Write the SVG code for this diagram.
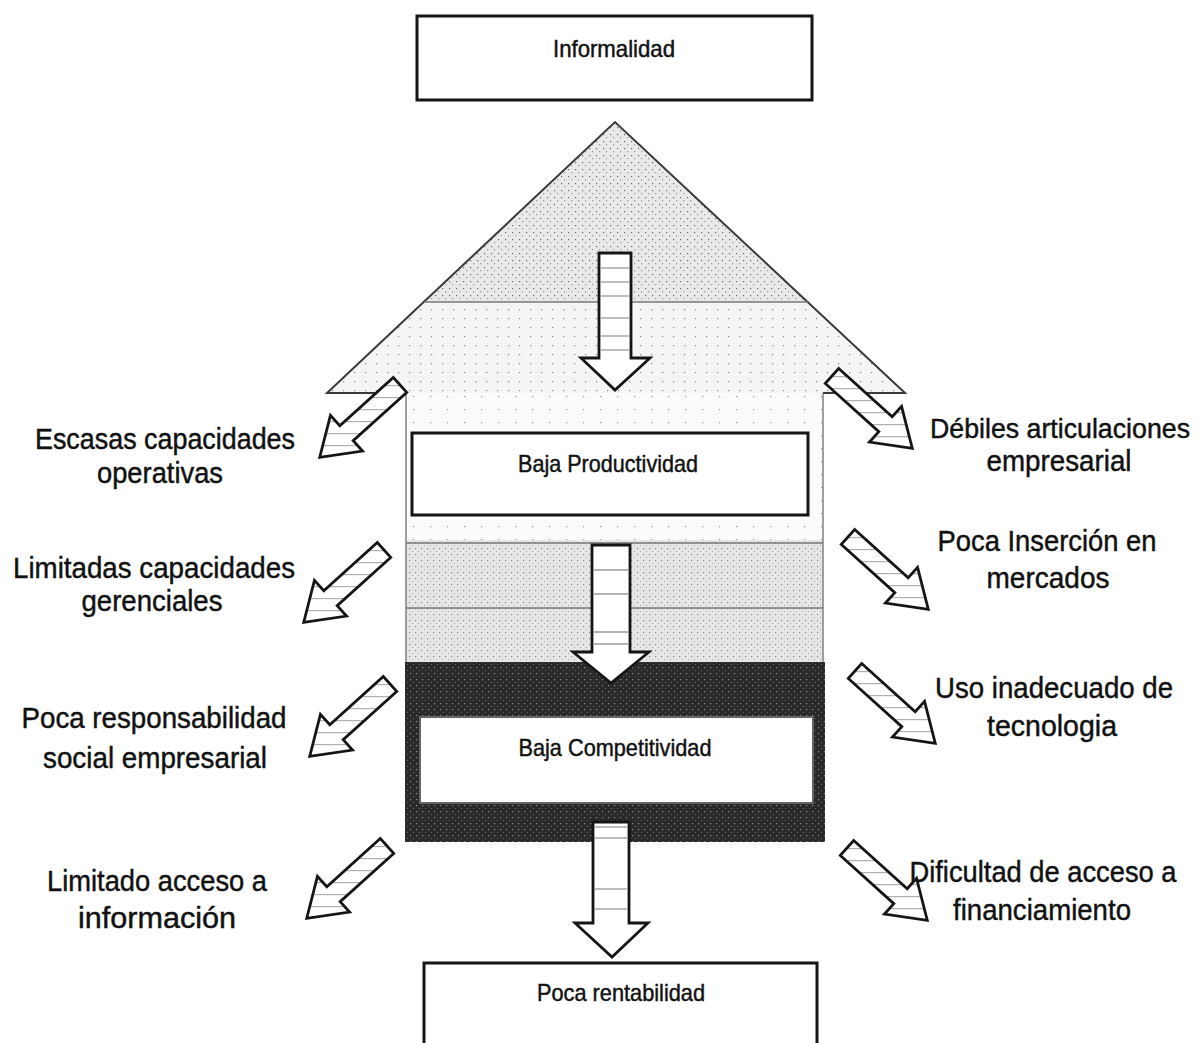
<svg xmlns="http://www.w3.org/2000/svg" xmlns:xlink="http://www.w3.org/1999/xlink" width="1202" height="1043" viewBox="0 0 1202 1043">
<style>
.box{fill:#fff;stroke:#151515;stroke-width:3}
.arr{stroke:#151515;stroke-width:2.8;stroke-linejoin:miter}
.stripe{stroke:#9a9a9a;stroke-width:1.3}
.t{font-family:"Liberation Sans",Arial,sans-serif;fill:#111;stroke:#111;stroke-width:0.45;text-anchor:middle}
.lbl{font-size:30px}
.bt{font-size:24px}
.edge{fill:none;stroke:#3a3a3a;stroke-width:2}
.thin{stroke:#777;stroke-width:1.4}
</style>
<defs>
<pattern id="pRoofTop" width="7" height="7" patternUnits="userSpaceOnUse">
<rect width="7" height="7" fill="#e9e9e9"/>
<rect x="1" y="1" width="1.2" height="1.2" fill="#6a6a6a"/>
<rect x="4" y="4" width="1.2" height="1.2" fill="#9a9a9a"/>
</pattern>
<pattern id="pRoofLow" width="11" height="9" patternUnits="userSpaceOnUse">
<rect width="11" height="9" fill="#f5f5f5"/>
<rect x="2" y="3" width="1.2" height="1.2" fill="#888"/>
</pattern>
<pattern id="pBody" width="17" height="13" patternUnits="userSpaceOnUse">
<rect width="17" height="13" fill="#fbfbfb"/>
<rect x="5" y="6" width="1.2" height="1.2" fill="#999"/>
</pattern>
<pattern id="pBand" width="6" height="6" patternUnits="userSpaceOnUse">
<rect width="6" height="6" fill="#e6e6e6"/>
<rect x="1" y="2" width="1.2" height="1.2" fill="#888"/>
<rect x="4" y="5" width="1" height="1" fill="#aaa"/>
</pattern>
<pattern id="pDark" width="6" height="6" patternUnits="userSpaceOnUse">
<rect width="6" height="6" fill="#2a2a2a"/>
<rect x="2" y="1" width="1.2" height="1.2" fill="#8a8a8a"/>
<rect x="5" y="4" width="1" height="1" fill="#666"/>
</pattern>
<pattern id="stL" width="12" height="12" patternUnits="userSpaceOnUse" patternTransform="rotate(-138)">
<rect width="12" height="12" fill="#fff"/>
<rect y="0" width="12" height="1.2" fill="#b0b0b0"/>
</pattern>
<pattern id="stR" width="12" height="12" patternUnits="userSpaceOnUse" patternTransform="rotate(-42)">
<rect width="12" height="12" fill="#fff"/>
<rect y="0" width="12" height="1.2" fill="#b0b0b0"/>
</pattern>
<path id="da" d="M0,-10 L72,-10 L72,-24 L108,0 L72,24 L72,10 L0,10 Z"/>
</defs>

<g id="house">
<polygon points="615,122 808,302 424,302" fill="url(#pRoofTop)"/>
<polygon points="424,302 808,302 905,393 327,393" fill="url(#pRoofLow)"/>
<rect x="406" y="393" width="417" height="147" fill="url(#pBody)"/>
<rect x="406" y="540" width="417" height="122" fill="url(#pBand)"/>
<rect x="405" y="662" width="420" height="180" fill="url(#pDark)"/>
<path class="edge" d="M406,393 L327,393 L615,122 L905,393 L823,393"/>
<line class="thin" x1="424" y1="302" x2="808" y2="302" stroke="#444"/>
<line class="thin" x1="406" y1="393" x2="406" y2="662"/>
<line class="thin" x1="823" y1="393" x2="823" y2="662"/>
<line class="thin" x1="406" y1="543" x2="823" y2="543"/>
<line class="thin" x1="406" y1="608" x2="823" y2="608"/>
</g>

<g id="n-informalidad">
<rect class="box" x="417" y="16" width="395" height="84"/>
<text class="t bt" x="614" y="57" textLength="122" lengthAdjust="spacingAndGlyphs">Informalidad</text>
</g>
<g id="n-productividad">
<rect class="box" x="412" y="433" width="396" height="82"/>
<text class="t bt" x="608" y="472" textLength="180" lengthAdjust="spacingAndGlyphs">Baja Productividad</text>
</g>
<g id="n-competitividad">
<rect x="420" y="717" width="393" height="86" fill="#fff" stroke="#666" stroke-width="2"/>
<text class="t bt" x="615" y="756" textLength="193" lengthAdjust="spacingAndGlyphs">Baja Competitividad</text>
</g>
<g id="n-rentabilidad">
<rect class="box" x="424" y="963" width="393" height="100"/>
<text class="t bt" x="621" y="1001" textLength="168" lengthAdjust="spacingAndGlyphs">Poca rentabilidad</text>
</g>

<g id="n-escasas"><text class="t lbl" x="165" y="449" textLength="260" lengthAdjust="spacingAndGlyphs">Escasas capacidades</text><text class="t lbl" x="160" y="483" textLength="126" lengthAdjust="spacingAndGlyphs">operativas</text></g>
<g id="n-limitadas"><text class="t lbl" x="154" y="578" textLength="282" lengthAdjust="spacingAndGlyphs">Limitadas capacidades</text><text class="t lbl" x="152" y="611" textLength="141" lengthAdjust="spacingAndGlyphs">gerenciales</text></g>
<g id="n-responsabilidad"><text class="t lbl" x="154" y="728" textLength="265" lengthAdjust="spacingAndGlyphs">Poca responsabilidad</text><text class="t lbl" x="155" y="768" textLength="224" lengthAdjust="spacingAndGlyphs">social empresarial</text></g>
<g id="n-informacion"><text class="t lbl" x="157" y="891" textLength="220" lengthAdjust="spacingAndGlyphs">Limitado acceso a</text><text class="t lbl" x="157" y="928" textLength="158" lengthAdjust="spacingAndGlyphs">información</text></g>
<g id="n-debiles"><text class="t lbl" x="1060" y="438" font-size="27" style="font-size:27px" textLength="260" lengthAdjust="spacingAndGlyphs">Débiles articulaciones</text><text class="t lbl" x="1059" y="471" textLength="145" lengthAdjust="spacingAndGlyphs">empresarial</text></g>
<g id="n-insercion"><text class="t lbl" x="1047" y="551" textLength="219" lengthAdjust="spacingAndGlyphs">Poca Inserción en</text><text class="t lbl" x="1048" y="588" textLength="123" lengthAdjust="spacingAndGlyphs">mercados</text></g>
<g id="n-tecnologia"><text class="t lbl" x="1054" y="698" textLength="238" lengthAdjust="spacingAndGlyphs">Uso inadecuado de</text><text class="t lbl" x="1052" y="736" textLength="130" lengthAdjust="spacingAndGlyphs">tecnologia</text></g>
<g id="n-financiamiento"><text class="t lbl" x="1043" y="882" textLength="267" lengthAdjust="spacingAndGlyphs">Dificultad de acceso a</text><text class="t lbl" x="1042" y="920" textLength="178" lengthAdjust="spacingAndGlyphs">financiamiento</text></g>

<g id="connectors">
<g id="c-roof">
<polygon class="arr" fill="#fff" points="599,253 631,253 631,358 650,358 615,390 581,358 599,358"/>
<line class="stripe" x1="601" y1="268" x2="629" y2="268"/><line class="stripe" x1="601" y1="282" x2="629" y2="282"/><line class="stripe" x1="601" y1="296" x2="629" y2="296"/><line class="stripe" x1="601" y1="318" x2="629" y2="318"/><line class="stripe" x1="601" y1="336" x2="629" y2="336"/><line class="stripe" x1="601" y1="350" x2="629" y2="350"/>
</g>
<g id="c-mid">
<polygon class="arr" fill="#fff" points="592,545 630,545 630,652 649,652 611,683 573,652 592,652"/>
<line class="stripe" x1="594" y1="570" x2="628" y2="570"/><line class="stripe" x1="594" y1="594" x2="628" y2="594"/><line class="stripe" x1="594" y1="632" x2="628" y2="632"/><line class="stripe" x1="594" y1="644" x2="628" y2="644"/>
</g>
<g id="c-bottom">
<polygon class="arr" fill="#fff" points="593,822 629,822 629,923 648,923 612,957 575,923 593,923"/>
<line class="stripe" x1="595" y1="827" x2="627" y2="827"/><line class="stripe" x1="595" y1="838" x2="627" y2="838"/><line class="stripe" x1="595" y1="889" x2="627" y2="889"/><line class="stripe" x1="595" y1="909" x2="627" y2="909"/>
</g>
<use id="c-escasas" href="#da" class="arr" fill="url(#stL)" transform="translate(400,385) rotate(138)"/>
<use id="c-limitadas" href="#da" class="arr" fill="url(#stL)" transform="translate(384,550) rotate(138)"/>
<use id="c-responsabilidad" href="#da" class="arr" fill="url(#stL)" transform="translate(390,684) rotate(138)"/>
<use id="c-informacion" href="#da" class="arr" fill="url(#stL)" transform="translate(387,846) rotate(138)"/>
<use id="c-debiles" href="#da" class="arr" fill="url(#stR)" transform="translate(832,376) rotate(42)"/>
<use id="c-insercion" href="#da" class="arr" fill="url(#stR)" transform="translate(848,537) rotate(42)"/>
<use id="c-tecnologia" href="#da" class="arr" fill="url(#stR)" transform="translate(855,671) rotate(42)"/>
<use id="c-financiamiento" href="#da" class="arr" fill="url(#stR)" transform="translate(847,848) rotate(42)"/>
</g>
</svg>
